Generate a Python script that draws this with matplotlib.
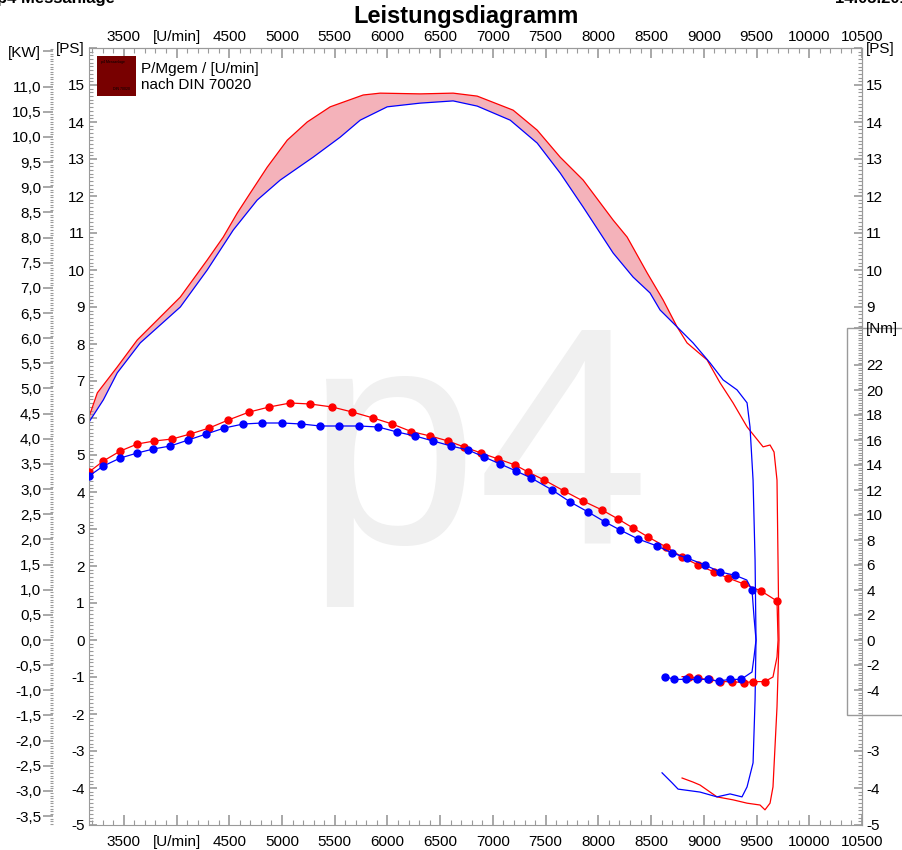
import numpy as np
import matplotlib
matplotlib.use("Agg")
import matplotlib.pyplot as plt
from matplotlib.patches import Rectangle
from matplotlib.ticker import FixedLocator, FuncFormatter, MultipleLocator
from matplotlib.transforms import blended_transform_factory

plt.rcParams['font.family'] = ['Liberation Sans', 'DejaVu Sans']

KW_PER_PS = 0.73549875
NM_PER_PS = 2.96  # scale of the torque axis relative to the PS axis

# power curves [U/min] / [PS]  (run-up, then run-down at the end)
red_rpm = [3170, 3249, 3438, 3628, 3818, 4036, 4291, 4443, 4576, 4699, 4860, 5050,
           5239, 5457, 5770, 5931, 6310, 6623, 6851, 7192, 7420, 7638, 7856, 8140,
           8273, 8463, 8614, 8747, 8841, 9031, 9154, 9277, 9410, 9562, 9628, 9666,
           9694, 9704, 9713, 9694, 9656, 9628, 9580, 9533, 9410, 9277, 9125, 8964,
           8898, 8794]
red_ps = [6.03, 6.68, 7.38, 8.11, 8.65, 9.27, 10.27, 10.89, 11.54, 12.08, 12.78, 13.51,
          14.00, 14.41, 14.73, 14.78, 14.76, 14.78, 14.70, 14.32, 13.78, 13.05, 12.43, 11.35,
          10.89, 9.92, 9.19, 8.46, 8.03, 7.57, 6.95, 6.41, 5.76, 5.22, 5.27, 5.08,
          4.32, 2.08, 0.00, -1.81, -3.97, -4.41, -4.59, -4.46, -4.41, -4.32, -4.24, -3.92,
          -3.84, -3.73]

blue_rpm = [3170, 3306, 3438, 3656, 4036, 4291, 4538, 4765, 4983, 5296, 5552, 5742,
            5998, 6310, 6623, 6851, 7164, 7420, 7638, 7856, 8140, 8329, 8490, 8585,
            8747, 8898, 9059, 9183, 9315, 9410, 9438, 9467, 9486, 9495, 9486, 9467,
            9410, 9362, 9249, 9125, 8964, 8756, 8699, 8604]
blue_ps = [5.89, 6.49, 7.22, 8.03, 9.00, 10.00, 11.08, 11.89, 12.43, 13.05, 13.59, 14.05,
           14.41, 14.51, 14.57, 14.43, 14.05, 13.43, 12.62, 11.70, 10.46, 9.81, 9.38, 8.92,
           8.46, 8.03, 7.49, 7.03, 6.76, 6.41, 5.76, 4.32, 2.16, 0.00, -1.62, -3.32,
           -3.97, -4.24, -4.16, -4.24, -4.11, -4.03, -3.86, -3.59]

CROSS_RPM = 8747  # where the two power curves cross on the run-up

# torque curves [U/min] / [Nm], dot = measured point marker
red_t_rpm = [3170, 3306, 3467, 3628, 3789, 3960, 4130, 4310, 4491, 4690, 4879, 5078,
             5268, 5476, 5666, 5865, 6045, 6225, 6405, 6576, 6727, 6888, 7050, 7211,
             7334, 7486, 7675, 7855, 8035, 8187, 8329, 8472, 8643, 8794, 8946, 9098,
             9230, 9381, 9543, 9694, 9704, 9694, 9656, 9576, 9471, 9377, 9263, 9149,
             9045, 8941, 8856, 8794]
red_t_nm = [13.44, 14.32, 15.12, 15.68, 15.92, 16.08, 16.48, 16.96, 17.60, 18.24, 18.64, 18.96,
            18.88, 18.64, 18.24, 17.76, 17.28, 16.68, 16.32, 15.92, 15.44, 14.96, 14.48, 14.00,
            13.44, 12.80, 11.92, 11.12, 10.40, 9.68, 8.96, 8.24, 7.44, 6.64, 6.00, 5.44,
            4.96, 4.48, 3.92, 3.12, 0.00, -1.36, -2.96, -3.33, -3.33, -3.41, -3.33, -3.33,
            -3.15, -3.07, -2.93, -2.93]
red_t_dot = [1] * 40 + [0, 0, 0] + [1] * 8 + [0]

blue_t_rpm = [3170, 3306, 3467, 3628, 3780, 3941, 4111, 4282, 4453, 4633, 4813, 5003,
              5183, 5363, 5543, 5732, 5912, 6092, 6263, 6434, 6604, 6765, 6917, 7069,
              7220, 7363, 7562, 7733, 7903, 8064, 8206, 8377, 8557, 8699, 8841, 9012,
              9154, 9296, 9407, 9457, 9476, 9495, 9476, 9457, 9353, 9251, 9141, 9036,
              8936, 8835, 8721, 8629]
blue_t_nm = [13.12, 13.92, 14.56, 14.96, 15.28, 15.52, 16.00, 16.48, 16.96, 17.28, 17.36, 17.36,
             17.28, 17.12, 17.12, 17.12, 17.04, 16.64, 16.32, 15.92, 15.52, 15.20, 14.64, 14.08,
             13.52, 12.96, 12.00, 11.04, 10.24, 9.44, 8.80, 8.08, 7.52, 6.96, 6.56, 6.00,
             5.44, 5.18, 4.80, 4.00, 1.84, 0.00, -1.36, -2.56, -3.15, -3.15, -3.28, -3.15,
             -3.15, -3.15, -3.15, -2.93]
blue_t_dot = [1] * 38 + [0, 1, 0, 0, 0, 0] + [1] * 8

x_ticks = list(range(3500, 10501, 500))
ps_left_ticks = list(range(-5, 16)) + [16]
ps_right_ticks = [-5, -4, -3, 9, 10, 11, 12, 13, 14, 15, 16]
kw_ticks = [i * 0.5 for i in range(-7, 23)] + [11.7]
nm_ticks = list(range(-4, 23, 2)) + [25]
NM_BOX = (-6, 25)

RED = '#ff0000'
BLUE = '#0000ff'
PINK = '#f4b2ba'
GRAY = '#9a9a9a'
FS = 11

W, H = 903, 850
L, R, T, B = 89, 862, 48, 825

fig = plt.figure(figsize=(W / 100, H / 100), dpi=100)
ax = fig.add_axes([L / W, 1 - B / H, (R - L) / W, (B - T) / H])


def fx(px):
    return (px - L) / (R - L)


def fy(py):
    return (B - py) / (B - T)


def rpm_label(v, pos):
    return '[U/min]' if abs(v - 4000) < 1 else f'{v:.0f}'


ax.set_xlim(3170, 10500)
ax.set_ylim(-5, 16)
for sp in ax.spines.values():
    sp.set_color(GRAY)

# watermark
ax.text(fx(305), fy(543), 'p4', transform=ax.transAxes, fontsize=223,
        color='#f0f0f0', ha='left', va='baseline', zorder=0)

# x axis: bottom on the main axes, top on a secondary axis
ax.xaxis.set_major_locator(FixedLocator(x_ticks))
ax.xaxis.set_minor_locator(MultipleLocator(100))
ax.xaxis.set_major_formatter(FuncFormatter(rpm_label))
ax.tick_params(axis='x', which='both', direction='in', top=False, bottom=True,
               color=GRAY, labelsize=FS, pad=7)
ax.tick_params(axis='x', which='major', length=7, width=1.2)
ax.tick_params(axis='x', which='minor', length=3.5, width=0.8)

sec_top = ax.secondary_xaxis('top')
sec_top.xaxis.set_major_locator(FixedLocator(x_ticks))
sec_top.xaxis.set_minor_locator(MultipleLocator(100))
sec_top.xaxis.set_major_formatter(FuncFormatter(rpm_label))
sec_top.spines['top'].set_color(GRAY)
sec_top.tick_params(axis='x', which='both', direction='in', color=GRAY,
                    labelsize=FS, pad=3)
sec_top.tick_params(axis='x', which='major', length=7, width=1.2)
sec_top.tick_params(axis='x', which='minor', length=3.5, width=0.8)

# left PS axis
ax.yaxis.set_major_locator(FixedLocator(ps_left_ticks))
ax.yaxis.set_minor_locator(MultipleLocator(0.1))
ax.yaxis.set_major_formatter(FuncFormatter(
    lambda v, p: '[PS]' if v > 15.5 else f'{v:.0f}'))

# right PS axis, interrupted by the Nm box
sec_ps = ax.secondary_yaxis('right')
sec_ps.yaxis.set_major_locator(FixedLocator(ps_right_ticks))
ps_minor = np.round(np.arange(-5, 16.001, 0.1), 2)
ps_minor = ps_minor[(ps_minor < NM_BOX[0] / NM_PER_PS) | (ps_minor > NM_BOX[1] / NM_PER_PS)]
sec_ps.yaxis.set_minor_locator(FixedLocator(ps_minor))
sec_ps.yaxis.set_major_formatter(FuncFormatter(
    lambda v, p: '[PS]' if v > 15.5 else f'{v:.0f}'))
sec_ps.spines['right'].set_color(GRAY)

# KW axis, detached on the far left
sec_kw = ax.secondary_yaxis(fx(53), functions=(lambda p: p * KW_PER_PS,
                                               lambda k: k / KW_PER_PS))
sec_kw.yaxis.set_major_locator(FixedLocator(kw_ticks))
sec_kw.yaxis.set_minor_locator(MultipleLocator(0.05))
sec_kw.yaxis.set_major_formatter(FuncFormatter(
    lambda v, p: '[KW]' if v > 11.6 else f'{round(v, 2) + 0.0:.1f}'.replace('.', ',')))
for sp in sec_kw.spines.values():
    sp.set_visible(False)
sec_kw.tick_params(axis='y', which='major', direction='out', length=7, width=1.2,
                   color=GRAY, labelsize=FS, pad=1.5)
sec_kw.tick_params(axis='y', which='minor', direction='out', length=2.5, width=0.8,
                   color=GRAY)

# torque axis on its own twin
tw = ax.twinx()
tw.set_ylim(-5 * NM_PER_PS, 16 * NM_PER_PS)
for sp in tw.spines.values():
    sp.set_visible(False)
tw.yaxis.set_major_locator(FixedLocator(nm_ticks))
nm_minor = np.round(np.arange(NM_BOX[0], NM_BOX[1] + 0.001, 0.2), 2)
tw.yaxis.set_minor_locator(FixedLocator(nm_minor))
tw.yaxis.set_major_formatter(FuncFormatter(
    lambda v, p: '[Nm]' if v > 24 else f'{v:.0f}'))

for a in (ax, sec_ps, tw):
    a.tick_params(axis='y', which='both', direction='in', color=GRAY,
                  labelsize=FS, pad=3)
    a.tick_params(axis='y', which='major', length=6, width=1.2)
    a.tick_params(axis='y', which='minor', length=3, width=0.8)

# Nm box
box = Rectangle((0.981, NM_BOX[0]), 0.1, NM_BOX[1] - NM_BOX[0],
                transform=blended_transform_factory(ax.transAxes, tw.transData),
                facecolor='white', edgecolor=GRAY, lw=1.0, clip_on=False, zorder=1)
ax.add_patch(box)

# legend
ax.add_patch(Rectangle((fx(97), fy(96)), 39 / (R - L), 40 / (B - T),
                       transform=ax.transAxes, facecolor='#780000', edgecolor='none',
                       zorder=3))
ax.text(fx(101), fy(63), 'p4 Messanlage', transform=ax.transAxes, fontsize=2.5,
        color='black', zorder=4)
ax.text(fx(113), fy(90), 'DIN 70020', transform=ax.transAxes, fontsize=2.5,
        color='black', zorder=4)
ax.text(fx(141), fy(69), 'P/Mgem / [U/min]', transform=ax.transAxes, fontsize=FS,
        va='center', ha='left', zorder=3)
ax.text(fx(141), fy(85), 'nach DIN 70020', transform=ax.transAxes, fontsize=FS,
        va='center', ha='left', zorder=3)

# power curves with the difference shaded
red_rpm_a, red_ps_a = np.array(red_rpm), np.array(red_ps)
blue_rpm_a, blue_ps_a = np.array(blue_rpm), np.array(blue_ps)
ir = int(np.argmax(red_rpm_a >= CROSS_RPM))
ib = int(np.argmax(blue_rpm_a >= CROSS_RPM))
ax.fill(np.r_[red_rpm_a[:ir + 1], blue_rpm_a[ib::-1]],
        np.r_[red_ps_a[:ir + 1], blue_ps_a[ib::-1]],
        color=PINK, lw=0, zorder=1.5)
ax.plot(red_rpm, red_ps, color=RED, lw=0.9, zorder=2)
ax.plot(blue_rpm, blue_ps, color=BLUE, lw=0.9, zorder=2)

# torque curves
tw.plot(red_t_rpm, red_t_nm, color=RED, lw=0.9, marker='o', ms=5, mec=RED,
        markevery=[i for i, d in enumerate(red_t_dot) if d])
tw.plot(blue_t_rpm, blue_t_nm, color=BLUE, lw=0.9, marker='o', ms=5, mec=BLUE,
        markevery=[i for i, d in enumerate(blue_t_dot) if d])

# titles
fig.text(466 / W, 1 - 17 / H, 'Leistungsdiagramm', ha='center', va='center',
         fontsize=17, fontweight='bold')
fig.text(-0.003, 1 - 3 / H, 'p4 Messanlage', ha='left', va='baseline',
         fontsize=12, fontweight='bold')
fig.text(835 / W, 1 - 3 / H, '14.05.2015', ha='left', va='baseline',
         fontsize=12, fontweight='bold')

fig.savefig('out.png', dpi=100)
